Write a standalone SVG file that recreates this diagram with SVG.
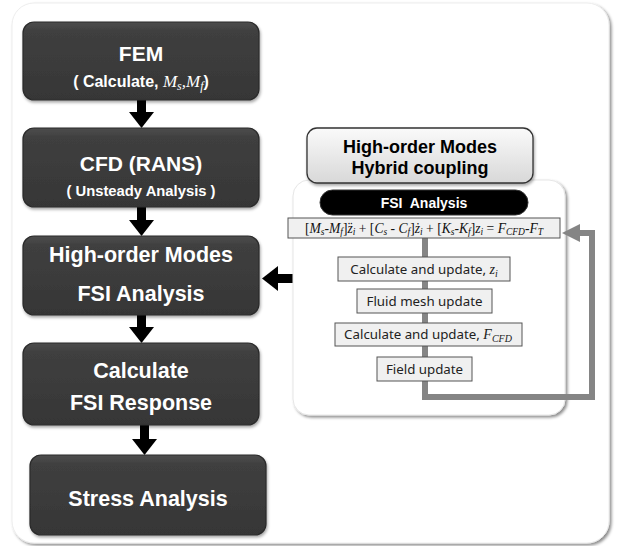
<svg xmlns="http://www.w3.org/2000/svg" width="618" height="546" viewBox="0 0 618 546">
<defs>
<style>
.dk{fill:url(#gDark);stroke:#2a2a2a;stroke-width:1.2}
.t1{font-family:"Liberation Sans",Arial,sans-serif;font-weight:bold;fill:#ffffff;text-anchor:middle}
.t2{font-family:"Liberation Sans",Arial,sans-serif;font-weight:bold;fill:#000000;text-anchor:middle}
.step{fill:#f0f0f0;stroke:#555555;stroke-width:1}
.st{font-family:"Noto Sans","Open Sans",sans-serif;font-size:13.3px;fill:#222222;text-anchor:middle}
.m{font-family:"Liberation Serif","DejaVu Serif",serif;font-style:italic}
.arr{fill:#000000}
.gl{fill:none;stroke:#858585;stroke-width:6;stroke-linejoin:miter}
</style>
<linearGradient id="gDark" x1="0" y1="0" x2="0" y2="1">
<stop offset="0" stop-color="#4e4e4e"/>
<stop offset="0.12" stop-color="#3f3f3f"/>
<stop offset="1" stop-color="#363636"/>
</linearGradient>
<linearGradient id="gLight" x1="0" y1="0" x2="0" y2="1">
<stop offset="0" stop-color="#fafafa"/>
<stop offset="1" stop-color="#d8d8d8"/>
</linearGradient>
<filter id="sh" x="-10%" y="-10%" width="120%" height="130%">
<feDropShadow dx="1" dy="2" stdDeviation="1.5" flood-color="#000" flood-opacity="0.35"/>
</filter>
<filter id="shp" x="-10%" y="-10%" width="120%" height="120%">
<feDropShadow dx="2" dy="2" stdDeviation="1.5" flood-color="#000" flood-opacity="0.45"/>
</filter>
</defs>

<rect width="618" height="546" fill="#ffffff"/>
<g id="container">
<rect x="12" y="3" width="597" height="540" rx="22" fill="#ffffff" stroke="#ededed" stroke-width="1" filter="url(#shp)"/>
</g>

<g id="connectors">
<rect x="137" y="100" width="9" height="13" class="arr"/><polygon points="129,112 154,112 141.5,128" class="arr"/>
<rect x="137" y="207" width="9" height="14" class="arr"/><polygon points="129,220 154,220 141.5,236" class="arr"/>
<rect x="137" y="315" width="9" height="13" class="arr"/><polygon points="129,327 154,327 141.5,343" class="arr"/>
<rect x="140" y="425" width="9" height="15" class="arr"/><polygon points="132,439 157,439 144.5,455" class="arr"/>
<rect x="277" y="274" width="17" height="9" class="arr"/><polygon points="278,266 278,291 262,278.5" class="arr"/>
</g>

<g id="n-fem">
<rect x="23" y="22" width="236" height="78" rx="11" class="dk" filter="url(#sh)"/>
<text x="141" y="61" class="t1" font-size="21">FEM</text>
<text x="141" y="87" class="t1" font-size="16">( Calculate, <tspan class="m" font-weight="normal" font-size="17">M</tspan><tspan class="m" font-weight="normal" font-size="12" dy="3">s</tspan><tspan class="m" font-weight="normal" font-size="17" dy="-3">,M</tspan><tspan class="m" font-weight="normal" font-size="12" dy="3">f</tspan><tspan dy="-3">)</tspan></text>
</g>

<g id="n-cfd">
<rect x="23" y="128" width="236" height="79" rx="11" class="dk" filter="url(#sh)"/>
<text x="141" y="171" class="t1" font-size="21">CFD (RANS)</text>
<text x="141" y="196" class="t1" font-size="14.8">( Unsteady Analysis )</text>
</g>

<g id="n-hom">
<rect x="23" y="236" width="236" height="79" rx="11" class="dk" filter="url(#sh)"/>
<text x="141" y="262" class="t1" font-size="21.5">High-order Modes</text>
<text x="141" y="301" class="t1" font-size="21.5">FSI Analysis</text>
</g>

<g id="n-resp">
<rect x="23" y="343" width="236" height="82" rx="11" class="dk" filter="url(#sh)"/>
<text x="141" y="378" class="t1" font-size="21.5">Calculate</text>
<text x="141" y="410" class="t1" font-size="21.5">FSI Response</text>
</g>

<g id="n-stress">
<rect x="30" y="455" width="236" height="80" rx="11" class="dk" filter="url(#sh)"/>
<text x="148" y="506" class="t1" font-size="21.5">Stress Analysis</text>
</g>

<g id="n-panel">
<rect x="293" y="180" width="272" height="235" rx="16" fill="#ffffff" stroke="#e6e6e6" stroke-width="1" filter="url(#shp)"/>
</g>

<g id="n-hybrid">
<rect x="307" y="128" width="226" height="55" rx="10" fill="url(#gLight)" stroke="#333333" stroke-width="1.3" filter="url(#sh)"/>
<text x="420" y="153" class="t2" font-size="18">High-order Modes</text>
<text x="420" y="174" class="t2" font-size="18">Hybrid coupling</text>
</g>

<g id="loop">
<polyline class="gl" points="425,238 425,397 592,397 592,233 576,233"/>
<polygon points="562,233 580,224 580,242" fill="#858585"/>
</g>

<g id="n-fsi">
<rect x="320" y="190" width="208" height="25" rx="12.5" fill="#000000" stroke="#333" stroke-width="1"/>
<text x="424" y="208" class="t1" font-size="14" xml:space="preserve">FSI  Analysis</text>
</g>

<g id="n-eq">
<rect x="288" y="218" width="272" height="20" class="step"/>
<text x="424" y="232.5" font-family="'Liberation Serif','DejaVu Serif',serif" font-size="13.6" fill="#111" text-anchor="middle">[<tspan class="m">M</tspan><tspan class="m" font-size="9.5" dy="2">s</tspan><tspan dy="-2">-</tspan><tspan class="m">M</tspan><tspan class="m" font-size="9.5" dy="2">f</tspan><tspan dy="-2">]</tspan><tspan class="m">z̈</tspan><tspan class="m" font-size="9.5" dy="2">i</tspan><tspan dy="-2"> + [</tspan><tspan class="m">C</tspan><tspan class="m" font-size="9.5" dy="2">s</tspan><tspan dy="-2"> - </tspan><tspan class="m">C</tspan><tspan class="m" font-size="9.5" dy="2">f</tspan><tspan dy="-2">]</tspan><tspan class="m">ż</tspan><tspan class="m" font-size="9.5" dy="2">i</tspan><tspan dy="-2"> + [</tspan><tspan class="m">K</tspan><tspan class="m" font-size="9.5" dy="2">s</tspan><tspan dy="-2">-</tspan><tspan class="m">K</tspan><tspan class="m" font-size="9.5" dy="2">f</tspan><tspan dy="-2">]</tspan><tspan class="m">z</tspan><tspan class="m" font-size="9.5" dy="2">i</tspan><tspan dy="-2"> = </tspan><tspan class="m">F</tspan><tspan class="m" font-size="9.5" dy="2">CFD</tspan><tspan dy="-2">-</tspan><tspan class="m">F</tspan><tspan class="m" font-size="9.5" dy="2">T</tspan></text>
</g>

<g id="n-s1">
<rect x="338" y="257" width="172" height="24" class="step"/>
<text x="424" y="274" class="st">Calculate and update, <tspan class="m" font-size="14">z</tspan><tspan class="m" font-size="10" dy="3">i</tspan></text>
</g>

<g id="n-s2">
<rect x="357" y="289" width="135" height="24" class="step"/>
<text x="424.5" y="306" class="st">Fluid mesh update</text>
</g>

<g id="n-s3">
<rect x="335" y="323" width="187" height="23" class="step"/>
<text x="428" y="339" class="st">Calculate and update, <tspan class="m" font-size="14">F</tspan><tspan class="m" font-size="10" dy="3">CFD</tspan></text>
</g>

<g id="n-s4">
<rect x="377" y="357" width="95" height="24" class="step"/>
<text x="424.5" y="374" class="st">Field update</text>
</g>
</svg>
